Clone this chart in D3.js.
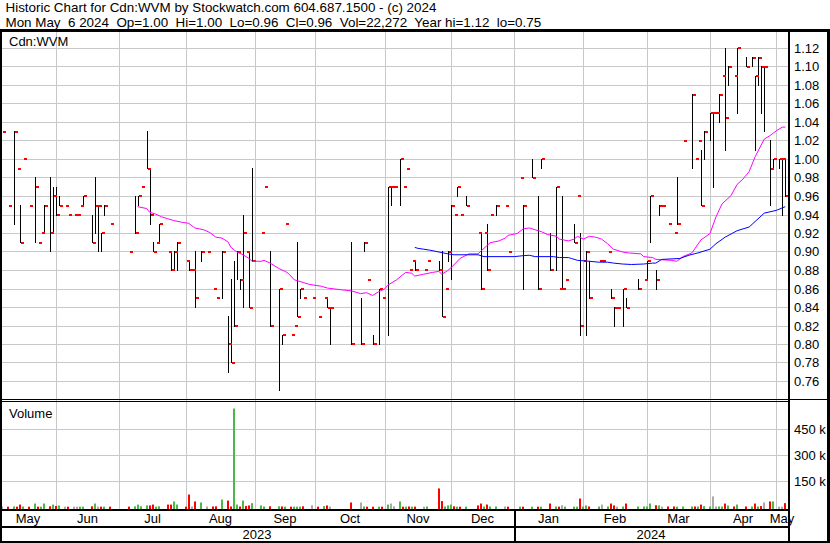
<!DOCTYPE html>
<html><head><meta charset="utf-8">
<script src="https://cdn.jsdelivr.net/npm/d3@7"></script>
<style>
html,body{margin:0;padding:0;background:#fff;}
svg{display:block;}
text{font-family:"Liberation Sans", Arial, sans-serif; font-size:13px; fill:#000;}
text.hdr{font-size:13.4px; white-space:pre;}
</style></head><body>
<svg id="c" width="830" height="543" xmlns="http://www.w3.org/2000/svg"></svg>
<script>
// ---------- data ----------
const startDate = "2023-05-08";           // weekday index 0
const title1 = "Historic Chart for Cdn:WVM by Stockwatch.com 604.687.1500 - (c) 2024";
const title2 = "Mon May  6 2024  Op=1.00  Hi=1.00  Lo=0.96  Cl=0.96  Vol=22,272  Year hi=1.12  lo=0.75";
const symbolLabel = "Cdn:WVM";
const volumeLabel = "Volume";
const monthLabels = ["May","Jun","Jul","Aug","Sep","Oct","Nov","Dec","Jan","Feb","Mar","Apr","May"];
const yearLabels = ["2023","2024"];
const priceTicks = [0.76,0.78,0.80,0.82,0.84,0.86,0.88,0.90,0.92,0.94,0.96,0.98,1.00,1.02,1.04,1.06,1.08,1.10,1.12];
const volumeTicks = [150000,300000,450000];

// weekday index of each trading day
const day = [
 0,2,4,5,6,7,9,11,12,13,
 14,16,17,18,19,21,22,24,25,26,
 27,30,31,32,33,34,36,42,44,45,
 46,48,49,50,51,52,55,56,57,58,
 61,62,63,64,66,68,70,71,73,75,
 76,77,78,79,80,81,82,83,86,87,
 89,92,93,94,96,97,98,99,100,103,
 105,107,108,109,116,119,120,121,123,125,
 126,128,129,130,132,133,134,135,136,137,
 140,141,145,146,147,148,149,150,151,152,
 154,158,159,160,161,162,164,167,168,172,
 173,176,178,179,182,184,185,186,187,190,
 191,192,193,194,195,198,199,201,202,203,
 204,206,207,211,213,214,215,217,218,219,
 221,223,224,226,229,230,231,232,233,235,
 236,237,238,239,240,241,243,244,247,249,
 250,251,252,253,255,256,258,259,260];
const high = [
 1.03,0.95,1.03,0.99,0.95,1.00,0.95,0.98,0.91,0.92,
 0.95,0.98,0.97,0.97,0.96,0.95,0.94,0.94,0.94,0.95,
 0.96,0.94,0.98,0.95,0.92,0.95,0.93,0.90,0.96,0.96,
 0.97,1.03,0.99,0.91,0.91,0.93,0.90,0.90,0.90,0.91,
 0.89,0.89,0.88,0.90,0.90,0.90,0.86,0.85,0.90,0.83,
 0.87,0.89,0.90,0.87,0.94,0.90,0.90,0.99,0.92,0.97,
 0.90,0.86,0.81,0.93,0.81,0.82,0.91,0.86,0.85,0.85,
 0.83,0.85,0.85,0.84,0.91,0.85,0.91,0.87,0.81,0.86,
 0.85,0.97,0.97,0.97,1.00,0.97,0.99,0.88,0.89,0.89,
 0.88,0.89,0.89,0.90,0.86,0.90,0.95,0.94,0.97,0.94,
 0.96,0.92,0.92,0.92,0.93,0.94,0.95,0.95,0.90,0.98,
 0.95,1.00,0.96,1.00,0.92,0.97,0.86,0.96,0.87,0.93,
 0.96,0.92,0.89,0.90,0.89,0.89,0.89,0.90,0.86,0.84,
 0.84,0.86,0.85,0.87,0.87,0.89,0.96,0.88,0.95,0.95,
 0.93,0.92,0.98,1.02,1.07,1.00,1.02,1.01,1.03,1.05,
 1.05,1.05,1.07,1.09,1.12,1.10,1.09,1.12,1.11,1.11,
 1.09,1.11,1.10,1.10,1.02,1.00,1.00,1.00,1.00];
const low = [
 1.03,0.95,0.93,0.99,0.91,1.00,0.95,0.91,0.91,0.92,
 0.92,0.90,0.92,0.94,0.95,0.95,0.94,0.94,0.94,0.95,
 0.95,0.91,0.92,0.90,0.90,0.94,0.93,0.90,0.92,0.95,
 0.97,0.99,0.93,0.90,0.91,0.91,0.90,0.88,0.88,0.88,
 0.89,0.88,0.88,0.84,0.89,0.90,0.86,0.85,0.85,0.77,
 0.78,0.82,0.87,0.86,0.84,0.90,0.84,0.89,0.92,0.97,
 0.82,0.75,0.80,0.93,0.81,0.82,0.83,0.85,0.85,0.85,
 0.83,0.85,0.84,0.80,0.80,0.80,0.90,0.87,0.80,0.80,
 0.85,0.81,0.95,0.97,0.95,0.97,0.99,0.88,0.89,0.88,
 0.88,0.89,0.88,0.83,0.86,0.89,0.87,0.94,0.96,0.94,
 0.95,0.92,0.86,0.92,0.88,0.94,0.94,0.95,0.90,0.98,
 0.86,0.98,0.86,0.99,0.88,0.88,0.86,0.86,0.87,0.91,
 0.96,0.81,0.89,0.81,0.85,0.89,0.89,0.90,0.85,0.82,
 0.84,0.82,0.84,0.86,0.87,0.87,0.91,0.86,0.94,0.95,
 0.93,0.92,0.93,1.02,0.99,1.00,1.02,0.95,1.00,1.02,
 0.97,1.05,1.04,1.09,1.01,1.08,1.09,1.05,1.10,1.10,
 1.01,1.08,1.05,1.03,0.95,0.99,0.99,0.94,0.96];
const close = [
 1.03,0.95,1.03,0.99,0.91,1.00,0.95,0.97,0.91,0.92,
 0.95,0.92,0.96,0.94,0.95,0.95,0.94,0.94,0.94,0.95,
 0.96,0.91,0.95,0.95,0.92,0.95,0.93,0.90,0.92,0.96,
 0.97,0.99,0.94,0.90,0.91,0.93,0.90,0.88,0.90,0.91,
 0.89,0.88,0.88,0.85,0.90,0.90,0.86,0.85,0.90,0.80,
 0.78,0.82,0.90,0.87,0.92,0.90,0.84,0.89,0.92,0.97,
 0.82,0.86,0.81,0.93,0.81,0.82,0.83,0.86,0.85,0.85,
 0.83,0.85,0.84,0.84,0.80,0.80,0.91,0.87,0.80,0.86,
 0.85,0.97,0.97,0.97,1.00,0.97,0.99,0.88,0.89,0.88,
 0.88,0.89,0.88,0.83,0.86,0.90,0.95,0.94,0.97,0.94,
 0.95,0.92,0.86,0.92,0.88,0.94,0.95,0.95,0.90,0.98,
 0.95,0.98,0.86,1.00,0.88,0.97,0.86,0.86,0.87,0.91,
 0.96,0.82,0.89,0.90,0.85,0.89,0.89,0.90,0.85,0.84,
 0.84,0.86,0.84,0.86,0.87,0.89,0.96,0.87,0.95,0.95,
 0.93,0.92,0.93,1.02,1.07,1.00,1.02,0.95,1.03,1.05,
 1.05,1.05,1.07,1.09,1.045,1.10,1.09,1.12,1.10,1.11,
 1.09,1.11,1.10,1.10,0.99,1.00,1.00,1.00,0.96];
const volume = [
 3000,2000,3000,2000,14000,3000,2000,20000,2000,2000,
 20000,4000,14000,6000,9000,2000,2000,2000,2000,2000,
 2000,4000,20000,2000,2000,2000,2000,2000,4000,14000,
 4000,9000,9000,14000,2000,4000,14000,14000,32000,14000,
 2000,72000,3000,32000,26000,3000,3000,4000,43000,37000,
 3000,568000,14000,3000,37000,6000,9000,22000,9000,3000,
 4000,4000,3000,2000,2000,2000,2000,2000,4000,10000,
 2000,5000,9000,2000,26000,26000,3000,2000,2000,2000,
 2000,14000,20000,4000,32000,2000,2000,3000,2000,2000,
 2000,3000,107000,34000,3000,9000,14000,4000,2000,2000,
 2000,9000,20000,3000,14000,3000,3000,3000,2000,2000,
 2000,2000,2000,2000,20000,3000,2000,10000,2000,2000,
 2000,49000,3000,9000,3000,3000,14000,3000,20000,9000,
 2000,3000,20000,3000,3000,3000,20000,10000,9000,2000,
 3000,3000,2000,3000,3000,3000,3000,14000,5000,3000,
 61000,3000,3000,3000,20000,9000,3000,14000,3000,3000,
 20000,3000,5000,26000,32000,32000,2000,2000,22272];

// moving averages: [weekday index, value]
const maShort = [
 [45,.949],[48,.947],[49,.943],[51,.941],[53,.938],[55,.936],[57,.934],[60,.932],[62,.931],[64,.926],
 [67,.924],[69,.921],[71,.916],[73,.915],[75,.911],[76,.905],[78,.900],[80,.897],[82,.893],[83,.890],
 [86,.890],[87,.891],[89,.888],[92,.882],[94,.879],[95,.877],[97,.870],[100,.867],[102,.865],[106,.863],
 [108,.861],[113,.859],[116,.858],[119,.855],[121,.856],[123,.853],[125,.857],[127,.860],[128,.864],[131,.870],
 [134,.878],[136,.877],[137,.874],[140,.876],[143,.878],[145,.879],[146,.876],[148,.880],[150,.886],[152,.893],
 [155,.898],[158,.898],[160,.904],[162,.910],[165,.912],[167,.915],[168,.918],[171,.920],[173,.925],[175,.926],
 [177,.924],[179,.922],[181,.919],[184,.917],[185,.914],[188,.912],[190,.914],[191,.917],[193,.914],[195,.917],
 [197,.916],[199,.914],[201,.909],[203,.903],[206,.900],[208,.899],[212,.898],[213,.895],[216,.894],[217,.892],
 [222,.891],[224,.890],[226,.895],[229,.899],[232,.913],[235,.920],[237,.938],[239,.952],[242,.961],[244,.973],
 [246,.979],[248,.987],[250,1.003],[253,1.022],[255,1.026],[257,1.031],[259,1.035],[260,1.035]];
const maLong = [
 [137,.905],[138,.904],[140,.903],[142,.902],[145,.900],[148,.898],[150,.897],[158,.897],[160,.895],[170,.895],
 [173,.896],[175,.8965],[177,.895],[183,.895],[185,.894],[188,.894],[189,.893],[191,.891],[195,.890],[198,.889],
 [201,.889],[203,.888],[206,.887],[209,.8865],[213,.887],[216,.888],[217,.888],[219,.892],[225,.893],[228,.8965],
 [231,.899],[235,.903],[237,.909],[240,.916],[244,.923],[248,.927],[250,.933],[253,.942],[257,.945],[260,.949]];

// ---------- layout ----------
const W = 830, H = 543;
const plotL = 2, plotR = 788;
const priceTop = 32, priceBot = 399;
const volTop = 402, volBot = 509;
const monthRowBot = 526, yearRowBot = 541;

const svg = d3.select("#c");
svg.append("rect").attr("width", W).attr("height", H).attr("fill", "#fff");

const x = d3.scaleLinear().domain([0, 260]).range([2, 785.3]);
const y = d3.scaleLinear().domain([0.74, 1.14]).range([400, 30]);
const yv = d3.scaleLinear().domain([0, 600000]).range([507, 403]);
const px = i => Math.round(x(i));

// calendar → month boundaries in weekday index
const parse = d3.timeParse("%Y-%m-%d");
const t0 = parse(startDate);
const tEnd = d3.timeDay.offset(t0, 365);
const weekdays = d3.timeDay.range(t0, tEnd).filter(d => d.getDay() !== 0 && d.getDay() !== 6);
const monthStarts = d3.timeMonth.range(d3.timeMonth.ceil(t0), tEnd);
const monthIdx = monthStarts.map(m => d3.bisectRight(weekdays, m) - 1);
const monthX = monthIdx.map(px);
const jan = monthStarts.findIndex(m => m.getMonth() === 0);

const grid = "#c8c8c8";
// vertical month gridlines
svg.append("g").selectAll("line").data(monthX).join("line")
  .attr("x1", d => d + 0.5).attr("x2", d => d + 0.5)
  .attr("y1", priceTop).attr("y2", volBot)
  .attr("stroke", grid).attr("stroke-width", 1);
// horizontal price gridlines
svg.append("g").selectAll("line").data(priceTicks).join("line")
  .attr("x1", plotL).attr("x2", plotR)
  .attr("y1", d => Math.floor(y(d)) + 0.5).attr("y2", d => Math.floor(y(d)) + 0.5)
  .attr("stroke", grid);
// volume gridlines
svg.append("g").selectAll("line").data(volumeTicks).join("line")
  .attr("x1", plotL).attr("x2", plotR)
  .attr("y1", d => Math.floor(yv(d)) + 0.5).attr("y2", d => Math.floor(yv(d)) + 0.5)
  .attr("stroke", grid);

const rows = day.map((d, i) => ({d, h: high[i], l: low[i], c: close[i], v: volume[i],
  pc: i > 0 ? close[i - 1] : close[i]}));

// high-low bars
svg.append("g").selectAll("line").data(rows.filter(r => r.h > r.l)).join("line")
  .attr("x1", r => px(r.d) + 0.5).attr("x2", r => px(r.d) + 0.5)
  .attr("y1", r => Math.floor(y(r.h))).attr("y2", r => Math.floor(y(r.l)) + 1)
  .attr("stroke", "#000").attr("stroke-width", 1);
// close ticks
svg.append("g").selectAll("rect").data(rows).join("rect")
  .attr("x", r => px(r.d) + 1).attr("y", r => Math.round(y(r.c)) - 1)
  .attr("width", 3).attr("height", 2).attr("fill", "#ff0000");

// moving averages
const line = d3.line().x(d => x(d[0])).y(d => y(d[1]));
svg.append("path").datum(maShort).attr("d", line).attr("fill", "none").attr("stroke", "#ff00ff").attr("stroke-width", 1);
svg.append("path").datum(maLong).attr("d", line).attr("fill", "none").attr("stroke", "#0000ff").attr("stroke-width", 1);

// volume bars
svg.append("g").selectAll("rect").data(rows).join("rect")
  .attr("x", r => px(r.d) - 1).attr("width", 2)
  .attr("y", r => yv(r.v)).attr("height", r => volBot - yv(r.v))
  .attr("fill", r => r.c > r.pc ? "#4db848" : (r.c < r.pc ? "#ff0000" : "#aaaaaa"));

// frame
const blk = (x0, y0, w, h) => svg.append("rect").attr("x", x0).attr("y", y0).attr("width", w).attr("height", h).attr("fill", "#000");
blk(0, 29, W, 3);                       // top
blk(0, 29, 2, H - 29);                  // left
blk(plotR, 29, 2, H - 29);              // axis separator
blk(W - 3, 29, 3, H - 29);              // right
blk(0, priceBot, W, 1);                 // price bottom
blk(0, priceBot + 2, plotR, 1);         // double line
blk(0, volBot, plotR, 2);               // volume bottom
blk(0, monthRowBot, plotR, 2);          // month row bottom
blk(0, yearRowBot, W, 2);               // bottom
blk(monthX[jan], volBot, 2, yearRowBot - volBot); // year divider

// texts (header keeps its double spaces)
svg.append("text").attr("class", "hdr").attr("xml:space", "preserve").attr("x", 5.5).attr("y", 12).text(title1);
svg.append("text").attr("class", "hdr").attr("xml:space", "preserve").attr("x", 5.5).attr("y", 27).text(title2);
svg.append("text").attr("x", 9).attr("y", 46).text(symbolLabel);
svg.append("text").attr("x", 9).attr("y", 417.5).text(volumeLabel);

svg.append("g").selectAll("text").data(priceTicks).join("text")
  .attr("x", 794).attr("y", d => Math.floor(y(d)) + 5).text(d => d3.format(".2f")(d));
svg.append("g").selectAll("text").data(volumeTicks).join("text")
  .attr("x", 794).attr("y", d => Math.floor(yv(d)) + 5).text(d => (d / 1000) + " k");

const bounds = [0, ...monthX, plotR];
svg.append("g").selectAll("text").data(monthLabels).join("text")
  .attr("x", (d, i) => (bounds[i] + bounds[i + 1]) / 2).attr("y", 522.5)
  .attr("text-anchor", "middle").text(d => d);
const ybounds = [0, monthX[jan], plotR];
svg.append("g").selectAll("text").data(yearLabels).join("text")
  .attr("x", (d, i) => (ybounds[i] + ybounds[i + 1]) / 2).attr("y", 539)
  .attr("text-anchor", "middle").text(d => d);

// separator drawn over the overflowing last month label
blk(plotR, volBot, 2, yearRowBot - volBot);
</script>
</body></html>
